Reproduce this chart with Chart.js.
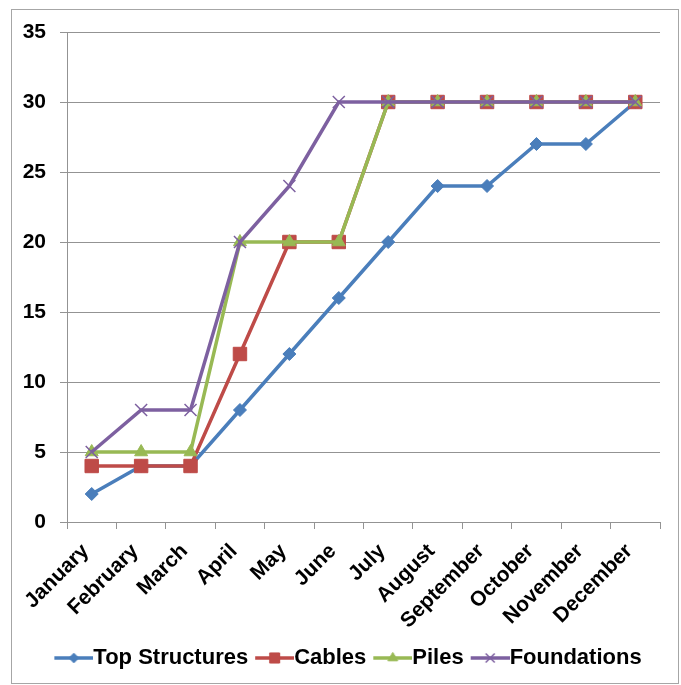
<!DOCTYPE html>
<html>
<head>
<meta charset="utf-8">
<script src="https://cdn.jsdelivr.net/npm/chart.js@4"></script>
<style>
  html, body { margin: 0; padding: 0; background: #fff; }
  #wrap { width: 681px; height: 685px; }
</style>
</head>
<body>
<div id="wrap"><canvas id="chart" width="681" height="685"></canvas></div>
<script>
// --- data ---
const months = ['January', 'February', 'March', 'April', 'May', 'June', 'July',
                'August', 'September', 'October', 'November', 'December'];
const topStructures = [2, 4, 4, 8, 12, 16, 20, 24, 24, 27, 27, 30];
const cables        = [4, 4, 4, 12, 20, 20, 30, 30, 30, 30, 30, 30];
const piles         = [5, 5, 5, 20, 20, 20, 30, 30, 30, 30, 30, 30];
const foundations   = [5, 8, 8, 20, 24, 30, 30, 30, 30, 30, 30, 30];
const yTicks = [0, 5, 10, 15, 20, 25, 30, 35];

const FONT = "'Liberation Sans', Arial, sans-serif";
const GRID = '#939393';

// line + marker image for the legend
function legendIcon(color, style, radius) {
  const c = document.createElement('canvas');
  c.width = 50; c.height = 20;
  const g = c.getContext('2d');
  g.strokeStyle = color;
  g.fillStyle = color;
  g.lineWidth = 3.5;
  g.beginPath();
  g.moveTo(11, 10);
  g.lineTo(50, 10);
  g.stroke();
  g.lineWidth = style === 'crossRot' ? 1.5 : 1;
  Chart.helpers.drawPoint(g, { pointStyle: style, radius: radius, rotation: 0, borderWidth: g.lineWidth }, 30.5, 10);
  return c;
}

function series(label, data, color, style, radius, order) {
  return {
    label: label,
    data: data,
    borderColor: color,
    backgroundColor: color,
    borderWidth: 3.5,
    pointStyle: style,
    pointRadius: radius,
    pointHoverRadius: radius,
    pointBorderWidth: style === 'crossRot' ? 1.5 : 1,
    pointBackgroundColor: color,
    pointBorderColor: color,
    tension: 0,
    order: order,
    legendIcon: legendIcon(color, style, radius * 0.75)
  };
}

// outer frame
const framePlugin = {
  id: 'frame',
  beforeDraw(chart) {
    const g = chart.ctx;
    g.save();
    g.fillStyle = '#ffffff';
    g.fillRect(0, 0, chart.width, chart.height);
    g.strokeStyle = '#a6a6a6';
    g.lineWidth = 1;
    g.strokeRect(11.5, 9.5, 667, 674);
    g.restore();
  }
};

// nudge the legend row to the right, like the original
const legendShift = {
  id: 'legendShift',
  afterLayout(chart) {
    chart.legend.left += 12;
    chart.legend.right += 12;
  }
};

new Chart(document.getElementById('chart'), {
  type: 'line',
  data: {
    labels: months,
    datasets: [
      series('Top Structures', topStructures, '#4A7EBB', 'rectRot', 6.5, 4),
      series('Cables', cables, '#BE4B48', 'rect', 9.5, 3),
      series('Piles', piles, '#98B954', 'triangle', 7.5, 2),
      series('Foundations', foundations, '#7D60A0', 'crossRot', 8.5, 1)
    ]
  },
  options: {
    responsive: false,
    animation: false,
    layout: { padding: { top: 32, left: 12, right: 21, bottom: 6 } },
    scales: {
      x: {
        offset: true,
        grid: { offset: true, drawOnChartArea: false, drawTicks: true, tickLength: 7, color: GRID },
        border: { display: true, color: GRID },
        ticks: {
          autoSkip: false, maxRotation: 45, minRotation: 45, padding: 10, labelOffset: -6,
          color: '#000', font: { family: FONT, size: 21, weight: 'bold' }
        },
        afterFit(scale) { scale.height = 118; }
      },
      y: {
        min: 0, max: 35,
        afterBuildTicks(scale) { scale.ticks = yTicks.map(v => ({ value: v })); },
        grid: { color: GRID, tickLength: 7 },
        border: { display: true, color: GRID },
        ticks: {
          padding: 14, color: '#000',
          font: { family: FONT, size: 21, weight: 'bold' }
        },
        afterFit(scale) { scale.width = 55; }
      }
    },
    plugins: {
      legend: {
        position: 'bottom',
        labels: {
          usePointStyle: true,
          pointStyleWidth: 28,
          padding: 7,
          color: '#000',
          font: { family: FONT, size: 22, weight: 'bold' },
          sort: (a, b) => a.datasetIndex - b.datasetIndex,
          generateLabels(chart) {
            return chart.data.datasets.map((ds, i) => ({
              text: ds.label,
              fillStyle: ds.borderColor,
              strokeStyle: ds.borderColor,
              fontColor: '#000',
              lineWidth: 0,
              pointStyle: ds.legendIcon,
              hidden: !chart.isDatasetVisible(i),
              datasetIndex: i
            }));
          }
        }
      },
      tooltip: { enabled: false }
    }
  },
  plugins: [framePlugin, legendShift]
});
</script>
</body>
</html>
